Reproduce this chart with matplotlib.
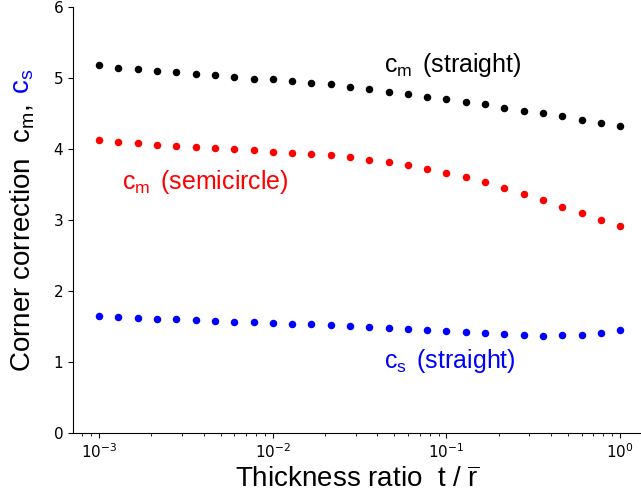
import numpy as np
import matplotlib
matplotlib.use("Agg")
import matplotlib.pyplot as plt

# thickness ratio t / r_bar, 9 points per decade from 1e-3 to 1
t_ratio = np.logspace(-3, 0, 28)

cm_straight = [5.18, 5.14, 5.12, 5.10, 5.08, 5.06, 5.04, 5.01, 4.99, 4.98,
               4.96, 4.93, 4.91, 4.87, 4.84, 4.80, 4.78, 4.73, 4.70, 4.66,
               4.63, 4.58, 4.54, 4.50, 4.46, 4.41, 4.37, 4.33]
cm_semicircle = [4.12, 4.10, 4.08, 4.06, 4.04, 4.03, 4.02, 4.00, 3.98, 3.96,
                 3.95, 3.93, 3.91, 3.885, 3.85, 3.81, 3.77, 3.72, 3.66, 3.61,
                 3.53, 3.45, 3.37, 3.28, 3.19, 3.10, 3.00, 2.92]
cs_straight = [1.648, 1.63, 1.625, 1.606, 1.60, 1.59, 1.58, 1.57, 1.56, 1.55,
               1.54, 1.535, 1.525, 1.51, 1.50, 1.485, 1.47, 1.45, 1.44, 1.42,
               1.405, 1.39, 1.38, 1.37, 1.375, 1.385, 1.41, 1.45]

plt.rcParams["mathtext.rm"] = "Liberation Sans"
plt.rcParams["mathtext.it"] = "Liberation Sans"
plt.rcParams["mathtext.sf"] = "Liberation Sans"
plt.rcParams["mathtext.bf"] = "Liberation Sans:bold"

LABEL_FONT = dict(family="Liberation Sans", math_fontfamily="custom")

fig = plt.figure(figsize=(6.41, 4.98), dpi=100)
ax = fig.add_axes([0.114, 0.1305, 0.886, 0.8555])

ax.plot(t_ratio, cm_straight, "o", color="black", markersize=4.4)
ax.plot(t_ratio, cm_semicircle, "o", color="red", markersize=4.4)
ax.plot(t_ratio, cs_straight, "o", color="blue", markersize=4.4)

ax.set_xscale("log")
ax.set_xlim(10 ** -3.15, 10 ** 0.12)
ax.set_ylim(0, 6)
ax.set_yticks(range(7))
ax.tick_params(labelsize=11)
ax.spines["top"].set_visible(False)
ax.spines["right"].set_visible(False)

ax.text(0.0437, 5.08, r"c$_{m}\,$ (straight)", color="black", fontsize=18,
        va="baseline", **LABEL_FONT)
ax.text(0.00136, 3.43, r"c$_{m}\,$ (semicircle)", color="red", fontsize=18,
        va="baseline", **LABEL_FONT)
ax.text(0.0437, 0.91, r"c$_{s}\,$ (straight)", color="blue", fontsize=18,
        va="baseline", **LABEL_FONT)

ax.set_xlabel(r"Thickness ratio  t / $\overline{r}$", fontsize=20,
              labelpad=4, **LABEL_FONT)

# y label in two colours: black part, then the blue c_s stacked above it
lab1 = fig.text(0.036, 1 - 372 / 498, r"Corner correction  c$_{m}$,  ",
                rotation=90, ha="center", va="bottom", fontsize=20,
                color="black", **LABEL_FONT)
fig.canvas.draw()
bb = lab1.get_window_extent()
top = fig.transFigure.inverted().transform((0, bb.y1))[1]
fig.text(0.036, top, "c$_{s}$", rotation=90, ha="center", va="bottom",
         fontsize=20, color="blue", **LABEL_FONT)

fig.savefig("out.png", dpi=100)
